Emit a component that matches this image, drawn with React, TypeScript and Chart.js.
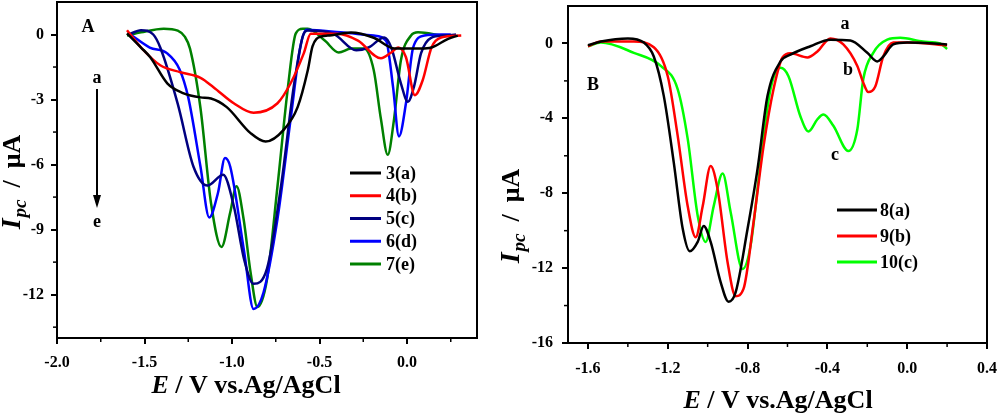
import React, { useEffect, useRef } from 'react';
import { Chart, registerables } from 'chart.js';
Chart.register(...registerables);

// ---------- Panel A data (E / V, I / µA) ----------
const a3X = [-1.6, -1.52, -1.467, -1.37, -1.28, -1.18, -1.12, -1.03, -0.894, -0.808, -0.705, -0.625, -0.567, -0.54, -0.49, -0.453, -0.32, -0.19, -0.07, 0.08, 0.14, 0.235, 0.29];
const a3Y = [0.05, -0.6, -1.05, -2.25, -2.7, -2.9, -2.95, -3.35, -4.55, -4.94, -4.4, -3.35, -1.65, -0.55, -0.09, -0.05, 0.09, -0.15, -0.65, -0.65, -0.6, -0.2, -0.05];

const a4X = [-1.6, -1.52, -1.41, -1.295, -1.18, -1.106, -0.99, -0.877, -0.74, -0.665, -0.59, -0.55, -0.4, -0.28, -0.149, -0.09, -0.05, -0.006, 0.045, 0.09, 0.14, 0.195, 0.31];
const a4Y = [0.2, -0.6, -1.42, -1.74, -2.0, -2.43, -3.17, -3.61, -3.17, -2.25, -0.87, 0.04, 0.04, -0.28, -1.1, -0.83, -0.6, -1.05, -2.8, -2.1, -0.6, -0.14, -0.05];

const a5X = [-1.59, -1.52, -1.45, -1.41, -1.31, -1.22, -1.14, -1.05, -0.99, -0.93, -0.877, -0.8, -0.72, -0.647, -0.596, -0.567, -0.42, -0.29, -0.22, -0.13, -0.09, -0.035, 0.005, 0.04, 0.08, 0.14, 0.21, 0.28];
const a5Y = [0.0, 0.2, 0.0, -0.6, -3.2, -6.1, -6.97, -6.47, -7.9, -10.4, -11.5, -10.8, -7.0, -2.4, -0.1, 0.18, 0.03, -0.73, -0.6, -0.14, -0.6, -2.25, -3.1, -2.4, -0.87, -0.14, -0.05, 0.0];

const a6X = [-1.58, -1.47, -1.37, -1.3, -1.25, -1.18, -1.13, -1.08, -1.04, -1.01, -0.93, -0.877, -0.82, -0.74, -0.665, -0.61, -0.575, -0.38, -0.19, -0.12, -0.08, -0.046, -0.006, 0.035, 0.1, 0.195, 0.25];
const a6Y = [0.0, -0.6, -0.87, -1.6, -2.9, -6.1, -8.44, -7.3, -5.7, -6.1, -10.05, -12.66, -11.9, -8.5, -3.9, -0.6, 0.22, 0.1, -0.05, -0.28, -2.4, -4.7, -3.17, -0.6, -0.05, 0.0, 0.0];

const a7X = [-1.6, -1.52, -1.39, -1.31, -1.27, -1.24, -1.18, -1.12, -1.06, -1.01, -0.974, -0.934, -0.894, -0.855, -0.8, -0.74, -0.68, -0.636, -0.596, -0.567, -0.47, -0.39, -0.32, -0.246, -0.19, -0.149, -0.11, -0.074, -0.035, 0.023, 0.063, 0.195];
const a7Y = [-0.05, 0.1, 0.27, 0.18, -0.1, -0.65, -3.4, -7.77, -9.8, -8.2, -7.0, -8.5, -10.96, -12.57, -11.3, -7.0, -2.4, 0.04, 0.27, 0.27, -0.28, -0.83, -0.65, -0.65, -1.65, -3.9, -5.55, -3.9, -1.2, -0.05, 0.1, -0.05];

const legendA = ['3(a)', '4(b)', '5(c)', '6(d)', '7(e)'];
const colorsA = ['#000000', '#ff0000', '#000080', '#0000ff', '#008000'];

// ---------- Panel B data ----------
const b8X = [-1.6, -1.535, -1.4, -1.32, -1.27, -1.22, -1.17, -1.125, -1.09, -1.05, -1.02, -0.985, -0.935, -0.895, -0.86, -0.8, -0.75, -0.7, -0.635, -0.585, -0.485, -0.385, -0.285, -0.2, -0.15, -0.12, -0.07, 0.0, 0.2];
const b8Y = [-0.1, 0.1, 0.27, 0.05, -0.7, -2.8, -6.35, -9.9, -11.1, -10.6, -9.75, -10.6, -12.75, -13.8, -13.3, -9.9, -6.7, -2.8, -0.96, -0.6, -0.15, 0.2, 0.16, -0.5, -0.96, -0.7, -0.05, 0.05, -0.05];

const b9X = [-1.6, -1.535, -1.37, -1.27, -1.2, -1.15, -1.1, -1.06, -1.025, -0.985, -0.95, -0.9, -0.86, -0.82, -0.77, -0.72, -0.67, -0.625, -0.585, -0.5, -0.45, -0.385, -0.32, -0.25, -0.22, -0.195, -0.16, -0.12, -0.07, 0.015, 0.2];
const b9Y = [-0.15, 0.1, 0.1, -0.2, -1.75, -4.95, -8.7, -10.35, -8.7, -6.55, -7.8, -11.7, -13.5, -13.1, -9.55, -5.5, -2.45, -0.75, -0.53, -0.75, -0.43, 0.27, -0.05, -1.2, -2.1, -2.6, -2.3, -0.7, 0.05, 0.05, -0.1];

const b10X = [-1.6, -1.535, -1.37, -1.235, -1.15, -1.1, -1.05, -1.01, -0.97, -0.925, -0.885, -0.825, -0.785, -0.735, -0.685, -0.635, -0.595, -0.535, -0.495, -0.45, -0.42, -0.37, -0.295, -0.25, -0.22, -0.17, -0.1, -0.035, 0.08, 0.165, 0.2];
const b10Y = [-0.15, 0.05, -0.5, -1.2, -2.45, -5.1, -9.2, -10.6, -8.7, -6.95, -9.0, -12.05, -10.8, -6.35, -2.45, -1.3, -1.75, -3.9, -4.7, -4.05, -3.8, -4.4, -5.75, -4.6, -1.9, -0.5, 0.2, 0.3, 0.1, 0.0, -0.3];

const legendB = ['8(a)', '9(b)', '10(c)'];
const colorsB = ['#000000', '#ff0000', '#00ff00'];

const minorXA = [-1.75, -1.25, -0.75, -0.25, 0.25];
const minorYA = [-13.5, -10.5, -7.5, -4.5, -1.5];
const minorXB = [-1.4, -1.0, -0.6, -0.2, 0.2];
const minorYB = [-14, -10, -6, -2];

const SERIF = '"Liberation Serif", "Times New Roman", serif';

type Seg = { t: string; font: string; dy?: number; gap?: number };

function drawRich(ctx: CanvasRenderingContext2D, segs: Seg[], cx: number, cy: number, rot: boolean) {
  ctx.save();
  ctx.translate(cx, cy);
  if (rot) ctx.rotate(-Math.PI / 2);
  let w = 0;
  for (const s of segs) {
    ctx.font = s.font;
    w += ctx.measureText(s.t).width + (s.gap || 0);
  }
  let x = -w / 2;
  ctx.textAlign = 'left';
  ctx.textBaseline = 'alphabetic';
  ctx.fillStyle = '#000';
  for (const s of segs) {
    ctx.font = s.font;
    ctx.fillText(s.t, x, s.dy || 0);
    x += ctx.measureText(s.t).width + (s.gap || 0);
  }
  ctx.restore();
}

function fmt(dec: number) {
  return (v: any) => {
    const n = Number(v);
    if (Math.abs(n) < 1e-9) return dec ? (0).toFixed(dec) : '0';
    return n.toFixed(dec);
  };
}

type PanelCfg = {
  xs: number[][];
  ys: number[][];
  colors: string[];
  labels: string[];
  xMin: number; xMax: number; xStep: number; xDec: number;
  yMin: number; yMax: number; yStep: number;
  minorX: number[]; minorY: number[];
  yAxisWidth: number; xAxisHeight: number;
  pad: { top: number; right: number; bottom: number; left: number };
  yTickPad: number; xTickPad: number;
  decorate: (ctx: CanvasRenderingContext2D, chart: any) => void;
};

function buildChart(canvas: HTMLCanvasElement, cfg: PanelCfg) {
  const datasets = cfg.xs.map((xs, i) => ({
    label: cfg.labels[i],
    data: xs.map((x, j) => ({ x, y: cfg.ys[i][j] })),
    borderColor: cfg.colors[i],
    backgroundColor: cfg.colors[i],
    borderWidth: 2.5,
    pointRadius: 0,
    fill: false,
    cubicInterpolationMode: 'monotone' as const,
  }));
  const tickFont = { family: SERIF, size: 16, weight: 'bold' as const };
  const decor = {
    id: 'decor',
    afterDatasetsDraw(chart: any) {
      const ctx = chart.ctx as CanvasRenderingContext2D;
      const a = chart.chartArea;
      ctx.save();
      ctx.strokeStyle = '#000';
      ctx.lineWidth = 2;
      ctx.strokeRect(a.left, a.top, a.right - a.left, a.bottom - a.top);
      ctx.lineWidth = 1.5;
      const xs = chart.scales.x, ys = chart.scales.y;
      for (const v of cfg.minorX) {
        const px = xs.getPixelForValue(v);
        ctx.beginPath(); ctx.moveTo(px, a.bottom); ctx.lineTo(px, a.bottom + 4); ctx.stroke();
      }
      for (const v of cfg.minorY) {
        const py = ys.getPixelForValue(v);
        ctx.beginPath(); ctx.moveTo(a.left, py); ctx.lineTo(a.left - 4, py); ctx.stroke();
      }
      ctx.restore();
      ctx.save();
      cfg.decorate(ctx, chart);
      ctx.restore();
    },
  };
  return new Chart(canvas, {
    type: 'line',
    data: { datasets },
    plugins: [decor],
    options: {
      responsive: false,
      animation: false,
      devicePixelRatio: 1,
      layout: { padding: cfg.pad },
      plugins: { legend: { display: false }, tooltip: { enabled: false } },
      scales: {
        x: {
          type: 'linear',
          min: cfg.xMin,
          max: cfg.xMax,
          afterFit: (s: any) => {
            s.height = cfg.xAxisHeight;
            s.paddingLeft = 0; s.paddingRight = 0; s.paddingTop = 0; s.paddingBottom = 0;
          },
          grid: { drawOnChartArea: false, drawTicks: true, tickLength: 6, color: '#000', lineWidth: 2 },
          border: { display: false },
          ticks: {
            stepSize: cfg.xStep,
            includeBounds: false,
            color: '#000',
            font: tickFont,
            padding: cfg.xTickPad,
            maxRotation: 0,
            autoSkip: false,
            callback: fmt(cfg.xDec),
          },
        },
        y: {
          type: 'linear',
          min: cfg.yMin,
          max: cfg.yMax,
          afterFit: (s: any) => {
            s.width = cfg.yAxisWidth;
            s.paddingLeft = 0; s.paddingRight = 0; s.paddingTop = 0; s.paddingBottom = 0;
          },
          grid: { drawOnChartArea: false, drawTicks: true, tickLength: 6, color: '#000', lineWidth: 2 },
          border: { display: false },
          ticks: {
            stepSize: cfg.yStep,
            includeBounds: false,
            color: '#000',
            font: tickFont,
            padding: cfg.yTickPad,
            autoSkip: false,
            callback: fmt(0),
          },
        },
      },
    },
  } as any);
}

function drawLegend(ctx: CanvasRenderingContext2D, labels: string[], colors: string[], x0: number, x1: number, tx: number, y0: number, dy: number) {
  ctx.font = `bold 18px ${SERIF}`;
  ctx.textBaseline = 'middle';
  ctx.textAlign = 'left';
  labels.forEach((l, i) => {
    const y = y0 + i * dy;
    ctx.strokeStyle = colors[i];
    ctx.lineWidth = 3;
    ctx.beginPath(); ctx.moveTo(x0, y); ctx.lineTo(x1, y); ctx.stroke();
    ctx.fillStyle = '#000';
    ctx.fillText(l, tx, y + 1);
  });
}

function txt(ctx: CanvasRenderingContext2D, s: string, x: number, y: number, size: number) {
  ctx.font = `bold ${size}px ${SERIF}`;
  ctx.textAlign = 'center';
  ctx.textBaseline = 'middle';
  ctx.fillStyle = '#000';
  ctx.fillText(s, x, y);
}

function xTitle(ctx: CanvasRenderingContext2D, cx: number, base: number) {
  drawRich(ctx, [
    { t: 'E', font: `italic bold 26px ${SERIF}` },
    { t: ' / V vs.Ag/AgCl', font: `bold 26px ${SERIF}` },
  ], cx, base, false);
}

function yTitle(ctx: CanvasRenderingContext2D, cx: number, cy: number) {
  drawRich(ctx, [
    { t: 'I', font: `italic bold 28px ${SERIF}`, gap: 1 },
    { t: 'pc', font: `italic bold 19px ${SERIF}`, dy: 6, gap: 12 },
    { t: '/', font: `bold 26px ${SERIF}`, gap: 12 },
    { t: 'μA', font: `bold 26px ${SERIF}` },
  ], cx, cy, true);
}

const BX = 495;

export default function App() {
  const refA = useRef<HTMLCanvasElement>(null);
  const refB = useRef<HTMLCanvasElement>(null);
  useEffect(() => {
    const chA = buildChart(refA.current!, {
      xs: [a3X, a4X, a5X, a6X, a7X],
      ys: [a3Y, a4Y, a5Y, a6Y, a7Y],
      colors: colorsA,
      labels: legendA,
      xMin: -2.0, xMax: 0.4, xStep: 0.5, xDec: 1,
      yMin: -14, yMax: 1.5, yStep: 3,
      minorX: minorXA, minorY: minorYA,
      yAxisWidth: 57, xAxisHeight: 76,
      pad: { top: 2, right: 18, bottom: 0, left: 0 },
      yTickPad: 7, xTickPad: 9,
      decorate: (ctx) => {
        txt(ctx, 'A', 88, 27, 18);
        txt(ctx, 'a', 97, 78, 18);
        txt(ctx, 'e', 97, 222, 18);
        ctx.strokeStyle = '#000';
        ctx.lineWidth = 2;
        ctx.beginPath(); ctx.moveTo(97, 89); ctx.lineTo(97, 198); ctx.stroke();
        ctx.fillStyle = '#000';
        ctx.beginPath(); ctx.moveTo(93, 195); ctx.lineTo(101, 195); ctx.lineTo(97, 208); ctx.closePath(); ctx.fill();
        drawLegend(ctx, legendA, colorsA, 350, 381, 386, 173, 22.75);
        xTitle(ctx, 246, 393);
        yTitle(ctx, 20, 182);
      },
    });
    const chB = buildChart(refB.current!, {
      xs: [b8X, b9X, b10X],
      ys: [b8Y, b9Y, b10Y],
      colors: colorsB,
      labels: legendB,
      xMin: -1.7, xMax: 0.4, xStep: 0.4, xDec: 1,
      yMin: -16, yMax: 2, yStep: 4,
      minorX: minorXB, minorY: minorYB,
      yAxisWidth: 73, xAxisHeight: 71,
      pad: { top: 6, right: 12, bottom: 0, left: 0 },
      yTickPad: 9, xTickPad: 10,
      decorate: (ctx) => {
        txt(ctx, 'B', 593 - BX, 85, 18);
        txt(ctx, 'a', 845 - BX, 24, 18);
        txt(ctx, 'b', 848 - BX, 70, 18);
        txt(ctx, 'c', 835 - BX, 155, 18);
        drawLegend(ctx, legendB, colorsB, 837 - BX, 877 - BX, 880 - BX, 210, 26);
        xTitle(ctx, 778 - BX, 408);
        yTitle(ctx, 519 - BX, 216);
      },
    });
    return () => { chA.destroy(); chB.destroy(); };
  }, []);
  return (
    <div style={{ position: 'absolute', left: 0, top: 0, width: 999, height: 414, background: '#fff' }}>
      <canvas ref={refA} width={495} height={414} style={{ position: 'absolute', left: 0, top: 0, width: 495, height: 414 }} />
      <canvas ref={refB} width={504} height={414} style={{ position: 'absolute', left: BX, top: 0, width: 504, height: 414 }} />
    </div>
  );
}
